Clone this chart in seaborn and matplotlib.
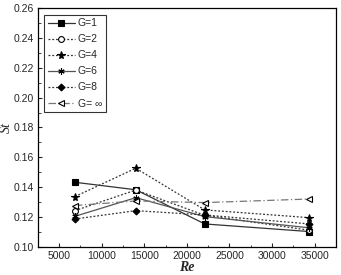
import matplotlib
matplotlib.use("Agg")
import matplotlib.pyplot as plt
import seaborn as sns
import pandas as pd
from matplotlib.ticker import MultipleLocator

sns.set_style("ticks")
plt.rcParams['font.family'] = ['Liberation Sans', 'DejaVu Sans']

re_vals = [6850, 14000, 22100, 34400]
labels = ["G=1", "G=2", "G=4", "G=6", "G=8", "G= \u221e"]
st_g1 = [0.1433, 0.1383, 0.1154, 0.1103]
st_g2 = [0.1243, 0.1381, 0.1212, 0.1112]
st_g4 = [0.1337, 0.1527, 0.1248, 0.1196]
st_g6 = [0.1205, 0.1330, 0.1203, 0.1128]
st_g8 = [0.1187, 0.1243, 0.1214, 0.1154]
st_ginf = [0.1277, 0.1308, 0.1297, 0.1321]
series = [st_g1, st_g2, st_g4, st_g6, st_g8, st_ginf]

styles = [
    dict(marker='s', linestyle='-', mfc='black', ms=3.8, color='#333333'),
    dict(marker='o', linestyle=(0, (1.5, 1.5)), mfc='white', ms=4.2, color='#333333'),
    dict(marker='*', linestyle=(0, (1.5, 1.5)), mfc='black', ms=5.8, color='#333333'),
    dict(marker=(6, 2, 0), linestyle='-', mfc='black', ms=4.5, color='#555555'),
    dict(marker='D', linestyle=(0, (1.5, 1.5)), mfc='black', ms=3.5, color='#333333'),
    dict(marker='<', linestyle=(0, (6, 2, 1, 2)), mfc='white', ms=4.8, color='#777777'),
]

fig = plt.figure(figsize=(3.41, 2.75), dpi=100)
ax = fig.add_axes([0.111, 0.102, 0.874, 0.869])

for lab, vals, st in zip(labels, series, styles):
    df = pd.DataFrame({"Re": re_vals, "St": vals})
    sns.lineplot(data=df, x="Re", y="St", ax=ax, label=lab,
                 color=st['color'], linestyle=st['linestyle'], linewidth=0.9,
                 marker=st['marker'], markersize=st['ms'],
                 markerfacecolor=st['mfc'], markeredgecolor='black',
                 markeredgewidth=0.8)

ax.set_xlim(2500, 37500)
ax.set_ylim(0.10, 0.26)
ax.xaxis.set_major_locator(MultipleLocator(5000))
ax.xaxis.set_minor_locator(MultipleLocator(2500))
ax.yaxis.set_major_locator(MultipleLocator(0.02))
ax.yaxis.set_minor_locator(MultipleLocator(0.01))
ax.yaxis.set_major_formatter(matplotlib.ticker.FormatStrFormatter('%.2f'))
ax.tick_params(which='major', direction='in', length=3, width=0.8, labelsize=7.5, pad=3)
ax.tick_params(which='minor', direction='in', length=1.8, width=0.6)
for s in ax.spines.values():
    s.set_visible(True)
    s.set_linewidth(0.9)
    s.set_color('black')

ax.set_xlabel("Re", fontsize=10, fontstyle='italic', fontweight='bold',
              family=['Liberation Serif', 'DejaVu Serif'], labelpad=0)
ax.set_ylabel("St", fontsize=10, fontstyle='italic',
              family=['Liberation Serif', 'DejaVu Serif'], labelpad=0)

leg = ax.legend(loc='upper left', bbox_to_anchor=(0.021, 0.972), borderaxespad=0,
                fontsize=7.5, handlelength=2.6, handletextpad=0.3, labelspacing=0.58,
                borderpad=0.35, frameon=True, fancybox=False)
leg.get_frame().set_edgecolor('black')
leg.get_frame().set_linewidth(0.8)

fig.savefig("out.png", dpi=100)
